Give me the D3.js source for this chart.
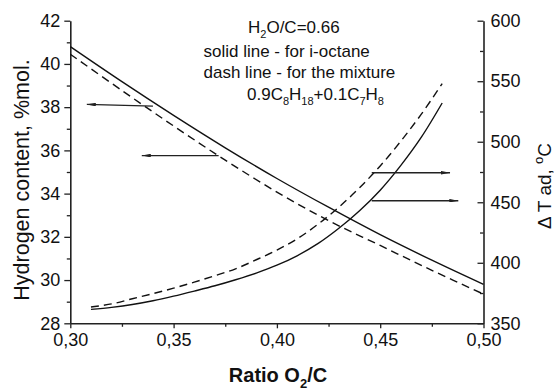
<!DOCTYPE html>
<html>
<head>
<meta charset="utf-8">
<script src="https://cdn.jsdelivr.net/npm/d3@7"></script>
<style>
  html, body { margin: 0; padding: 0; background: #fff; }
  svg { display: block; }
  text { font-family: "Liberation Sans", Arial, sans-serif; fill: #111; }
</style>
</head>
<body>
<svg id="chart" width="554" height="391"></svg>
<script>
// ---------------- data ----------------
const ratioH = [0.300, 0.325, 0.350, 0.375, 0.400, 0.425, 0.450, 0.475, 0.500];
const hydrogenOctane  = [40.8, 39.18, 37.62, 36.12, 34.7, 33.37, 32.1, 30.92, 29.8];
const hydrogenMixture = [40.45, 38.77, 37.13, 35.55, 34.07, 32.75, 31.6, 30.45, 29.35];

const ratioT = [0.31, 0.32, 0.33, 0.34, 0.35, 0.36, 0.37, 0.38, 0.39, 0.40, 0.41, 0.42, 0.43, 0.44, 0.45, 0.46, 0.47, 0.48];
const tempOctane  = [361.5, 363.2, 365.5, 368.6, 372.4, 376.6, 381, 386, 391.5, 398, 406, 416, 428.5, 443, 460, 480.5, 504, 532];
const tempMixture = [363.5, 366, 370.3, 374.5, 379, 384, 389.3, 395, 402.5, 410.5, 420, 432, 446, 462, 480, 500.5, 523, 548];

const xTicks = [0.30, 0.35, 0.40, 0.45, 0.50];
const xTickLabels = ["0,30", "0,35", "0,40", "0,45", "0,50"];
const xMinorTicks = [0.325, 0.375, 0.425, 0.475];
const yLeftTicks = [28, 30, 32, 34, 36, 38, 40, 42];
const yLeftMinor = [29, 31, 33, 35, 37, 39, 41];
const yRightTicks = [350, 400, 450, 500, 550, 600];
const yRightMinor = [375, 425, 475, 525, 575];

// arrows pointing to the axis each curve belongs to
const arrows = [
  { x1: 0.340, x2: 0.308, y1: 38.05, y2: 38.13, axis: "left" },
  { x1: 0.3718, x2: 0.3346, y1: 35.76, y2: 35.76, axis: "left" },
  { x1: 0.4459, x2: 0.4838, y1: 474.4, y2: 474.4, axis: "right" },
  { x1: 0.4459, x2: 0.4878, y1: 451.3, y2: 451.3, axis: "right" }
];

// ---------------- layout ----------------
const svg = d3.select("#chart");
const x = d3.scaleLinear().domain([0.30, 0.50]).range([70.3, 483.5]);
const yL = d3.scaleLinear().domain([28, 42]).range([323.3, 20.7]);
const yR = d3.scaleLinear().domain([350, 600]).range([323.3, 20.7]);

const axisColor = "#222";
const tickFont = "18px";

// bottom axis
svg.append("g").attr("transform", `translate(0,${yL(28)})`)
  .call(d3.axisBottom(x).tickValues(xTicks).tickSizeInner(5).tickSizeOuter(0).tickPadding(5)
    .tickFormat((d, i) => xTickLabels[i]));
svg.append("g").attr("transform", `translate(0,${yL(28)})`)
  .call(d3.axisBottom(x).tickValues(xMinorTicks).tickSizeInner(3.5).tickSizeOuter(0).tickFormat(""))
  .select(".domain").remove();

// left axis
svg.append("g").attr("transform", `translate(${x(0.30)},0)`)
  .call(d3.axisLeft(yL).tickValues(yLeftTicks).tickSizeInner(6).tickSizeOuter(0).tickPadding(4).tickFormat(d3.format("d")));
svg.append("g").attr("transform", `translate(${x(0.30)},0)`)
  .call(d3.axisLeft(yL).tickValues(yLeftMinor).tickSizeInner(3.5).tickSizeOuter(0).tickFormat(""))
  .select(".domain").remove();

// right axis (ticks inward)
svg.append("g").attr("transform", `translate(${x(0.50)},0)`)
  .call(d3.axisRight(yR).tickValues(yRightTicks).tickSizeInner(-6).tickSizeOuter(0).tickPadding(7).tickFormat(d3.format("d")));
svg.append("g").attr("transform", `translate(${x(0.50)},0)`)
  .call(d3.axisRight(yR).tickValues(yRightMinor).tickSizeInner(-3.5).tickSizeOuter(0).tickFormat(""))
  .select(".domain").remove();

svg.selectAll(".domain").attr("stroke", axisColor).attr("stroke-width", 1.6);
svg.selectAll(".tick line").attr("stroke", axisColor).attr("stroke-width", 1.3);
svg.selectAll(".tick text")
  .style("font-family", "'Liberation Sans', Arial, sans-serif")
  .style("font-size", tickFont).attr("fill", "#111");

// ---------------- lines ----------------
const lineL = d3.line().x(d => x(d[0])).y(d => yL(d[1])).curve(d3.curveCatmullRom.alpha(0.5));
const lineR = d3.line().x(d => x(d[0])).y(d => yR(d[1])).curve(d3.curveCatmullRom.alpha(0.5));

svg.append("path").datum(ratioH.map((r, i) => [r, hydrogenOctane[i]]))
  .attr("d", lineL).attr("fill", "none").attr("stroke", "#111").attr("stroke-width", 1.4);
svg.append("path").datum(ratioH.map((r, i) => [r, hydrogenMixture[i]]))
  .attr("d", lineL).attr("fill", "none").attr("stroke", "#111").attr("stroke-width", 1.4)
  .attr("stroke-dasharray", "8,5");
svg.append("path").datum(ratioT.map((r, i) => [r, tempOctane[i]]))
  .attr("d", lineR).attr("fill", "none").attr("stroke", "#111").attr("stroke-width", 1.4);
svg.append("path").datum(ratioT.map((r, i) => [r, tempMixture[i]]))
  .attr("d", lineR).attr("fill", "none").attr("stroke", "#111").attr("stroke-width", 1.4)
  .attr("stroke-dasharray", "8,5");

// ---------------- arrows ----------------
svg.append("defs").append("marker")
  .attr("id", "head").attr("viewBox", "0 0 10 4").attr("refX", 10).attr("refY", 2)
  .attr("markerWidth", 9).attr("markerHeight", 3.6).attr("markerUnits", "userSpaceOnUse")
  .attr("orient", "auto")
  .append("path").attr("d", "M0,0 L10,2 L0,4 Z").attr("fill", "#222");

arrows.forEach(a => {
  const ys = a.axis === "left" ? yL : yR;
  svg.append("line")
    .attr("x1", x(a.x1)).attr("y1", ys(a.y1))
    .attr("x2", x(a.x2)).attr("y2", ys(a.y2))
    .attr("stroke", "#222").attr("stroke-width", a.axis === "left" ? 1.2 : 1.5)
    .attr("marker-end", "url(#head)");
});

// ---------------- texts ----------------
const ann = svg.append("g").style("font-size", "17px");
const t1 = ann.append("text").attr("x", 248).attr("y", 33.3);
t1.append("tspan").text("H");
t1.append("tspan").attr("dy", 5).style("font-size", "11px").text("2");
t1.append("tspan").attr("dy", -5).text("O/C=0.66");

ann.append("text").attr("x", 203.5).attr("y", 56.7).text("solid line - for i-octane");
ann.append("text").attr("x", 203.5).attr("y", 78.3).text("dash line - for the mixture");

const t4 = ann.append("text").attr("x", 247).attr("y", 100);
t4.append("tspan").text("0.9C");
t4.append("tspan").attr("dy", 5).style("font-size", "11px").text("8");
t4.append("tspan").attr("dy", -5).text("H");
t4.append("tspan").attr("dy", 5).style("font-size", "11px").text("18");
t4.append("tspan").attr("dy", -5).text("+0.1C");
t4.append("tspan").attr("dy", 5).style("font-size", "11px").text("7");
t4.append("tspan").attr("dy", -5).text("H");
t4.append("tspan").attr("dy", 5).style("font-size", "11px").text("8");

// left axis title
svg.append("text").attr("transform", "translate(29,180) rotate(-90)")
  .attr("text-anchor", "middle").style("font-size", "21.5px")
  .text("Hydrogen content, %mol.");

// right axis title
const rt = svg.append("text").attr("transform", "translate(551,186) rotate(-90)")
  .attr("text-anchor", "middle").style("font-size", "19px");
rt.append("tspan").text("\u0394 T ad, ");
rt.append("tspan").attr("dy", -8).style("font-size", "13px").text("o");
rt.append("tspan").attr("dy", 8).text("C");

// x axis title
const xt = svg.append("text").attr("x", 278).attr("y", 381.7)
  .attr("text-anchor", "middle").style("font-size", "20px").style("font-weight", "bold");
xt.append("tspan").text("Ratio O");
xt.append("tspan").attr("dy", 6).style("font-size", "13px").text("2");
xt.append("tspan").attr("dy", -6).text("/C");
</script>
</body>
</html>
